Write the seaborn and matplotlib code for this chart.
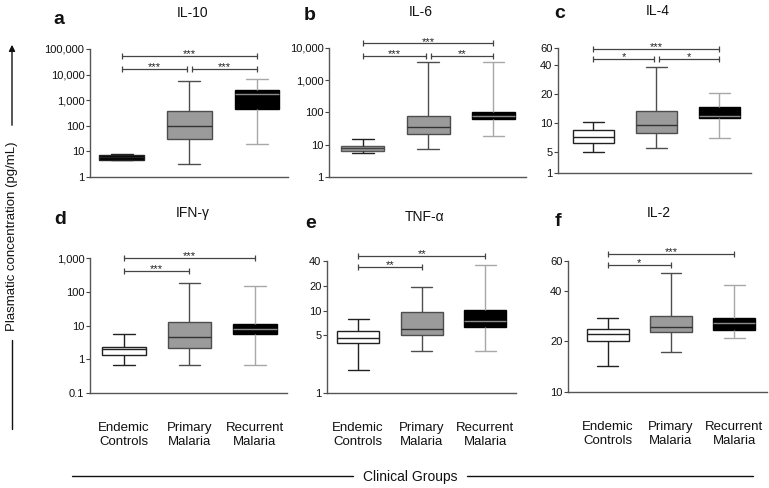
import numpy as np
import pandas as pd
import matplotlib
matplotlib.use("Agg")
import matplotlib.pyplot as plt
from matplotlib.lines import Line2D
from matplotlib.patches import FancyArrowPatch
import seaborn as sns

W, H = 769, 488

groups = ["Endemic Controls", "Primary Malaria", "Recurrent Malaria"]
group_labels = ["Endemic\nControls", "Primary\nMalaria", "Recurrent\nMalaria"]

# five-number summaries: min, q1, median, q3, max
il10 = [[4.5, 4.8, 6.0, 7.5, 7.9], [3.2, 30, 100, 380, 5600], [19, 450, 1750, 2500, 6700]]
il6 = [[5.4, 6.5, 7.8, 9.2, 14.8], [7.4, 21, 36, 78, 3600], [19, 63, 80, 100, 3600]]
il4 = [[4.95, 6.2, 7.1, 8.4, 10.1], [5.5, 7.9, 9.4, 13.1, 38.5], [6.9, 11.2, 11.9, 14.6, 20.2]]
ifng = [[0.69, 1.3, 1.95, 2.3, 5.7], [0.69, 2.1, 4.6, 13, 182], [0.69, 5.7, 7.9, 10.8, 150]]
tnfa = [[1.9, 4.0, 4.7, 5.6, 7.8], [3.2, 5.0, 6.0, 9.7, 19.3], [3.2, 6.4, 7.5, 10.2, 35.6]]
il2 = [[14.3, 20.0, 22.1, 23.7, 27.5], [17.4, 22.6, 24.3, 28.4, 51], [21, 23.5, 25.8, 27.7, 43]]

panel_data = [il10, il6, il4, ifng, tnfa, il2]
titles = ["IL-10", "IL-6", "IL-4", "IFN-\u03b3", "TNF-\u03b1", "IL-2"]
letters = ["a", "b", "c", "d", "e", "f"]

yticks = [
    [1, 10, 100, 1000, 10000, 100000],
    [1, 10, 100, 1000, 10000],
    [3.0, 5, 10, 20, 40, 60],   # bottom tick sits after an axis break in the original
    [0.1, 1, 10, 100, 1000],
    [1, 5, 10, 20, 40],
    [10, 20, 40, 60],
]
ytick_labels = [
    ["1", "10", "100", "1,000", "10,000", "100,000"],
    ["1", "10", "100", "1,000", "10,000"],
    ["1", "5", "10", "20", "40", "60"],
    ["0.1", "1", "10", "100", "1,000"],
    ["1", "5", "10", "20", "40"],
    ["10", "20", "40", "60"],
]

# significance brackets: (from group, to group, y value, stars)
brackets = [
    [(0, 2, 53000, "***"), (0, 0.96, 16500, "***"), (1.04, 2, 16500, "***")],
    [(0, 2, 14000, "***"), (0, 0.96, 5750, "***"), (1.04, 2, 5750, "**")],
    [(0, 2, 59, "***"), (0, 0.96, 46, "*"), (1.04, 2, 46, "*")],
    [(0, 2, 1000, "***"), (0, 1, 425, "***")],
    [(0, 2, 46, "**"), (0, 1, 34, "**")],
    [(0, 2, 66, "***"), (0, 1, 57, "*")],
]

# axes boxes in pixels: left, top, right, bottom
boxes_px = [
    (90, 49, 288, 177), (329, 48, 526, 177), (558, 48, 751, 173),
    (90, 258, 287, 393), (327, 261, 516, 393), (568, 261, 767, 392),
]
xlims = [(-0.47, 2.46), (-0.52, 2.5), (-0.56, 2.5), (-0.52, 2.49), (-0.49, 2.48), (-0.63, 2.52)]

# box styles per group: fill, edge, whisker, median
styles = [
    ("white", "#222222", "#222222", "#222222"),
    ("#9b9b9b", "#4d4d4d", "#4d4d4d", "#333333"),
    ("black", "black", "#a8a8a8", "#8a8a8a"),
]

sns.set_theme(style="ticks")
plt.rcParams["font.family"] = ["Liberation Sans", "DejaVu Sans"]

fig = plt.figure(figsize=(W / 100, H / 100), dpi=100)


def fx(x):
    return x / W


def fy(y):
    return 1 - y / H


for i, summ in enumerate(panel_data):
    l, t, r, b = boxes_px[i]
    ax = fig.add_axes([fx(l), fy(b), (r - l) / W, (b - t) / H])
    ax.set_yscale("log")
    for g, vals in enumerate(summ):
        fill, edge, whisk, med = styles[g]
        if i == 0 and g == 0:
            fill = "black"
        if i == 1 and g == 0:
            fill, edge, med = "#9b9b9b", "#555555", "#444444"
        df = pd.DataFrame({"group": groups[g], "value": vals})
        sns.boxplot(data=df, x="group", y="value", order=groups, ax=ax,
                    color=fill, linecolor=edge, linewidth=1.0, width=0.66,
                    whis=(0, 100), fliersize=0, saturation=1,
                    whiskerprops=dict(color=whisk), capprops=dict(color=whisk),
                    medianprops=dict(color=med, linewidth=1.0))
    ax.set_xlim(*xlims[i])
    ax.set_ylim(yticks[i][0], yticks[i][-1])
    ax.minorticks_off()
    ax.set_yticks(yticks[i])
    ax.set_yticklabels(ytick_labels[i])
    ax.set_xlabel("")
    ax.set_ylabel("")
    ax.tick_params(axis="y", length=3, width=0.8, color="#444444", pad=1,
                   labelsize=8, labelcolor="#111111")
    if i >= 3:
        ax.set_xticks([0, 1, 2])
        ax.set_xticklabels(group_labels)
        ax.tick_params(axis="x", length=0, pad=21, labelsize=9.5, labelcolor="#111111")
    else:
        ax.set_xticks([])
    for s in ["top", "right"]:
        ax.spines[s].set_visible(False)
    for s in ["left", "bottom"]:
        ax.spines[s].set_color("#555555")
        ax.spines[s].set_linewidth(1.0)
    ax.set_facecolor("white")

    for x0, x1, yv, stars in brackets[i]:
        ax.plot([x0, x1], [yv, yv], color="#444444", lw=0.9, clip_on=False)
        ax.plot([x0, x1], [yv, yv], ls="none", marker="|", ms=5, mew=0.9,
                color="#444444", clip_on=False)
        ax.annotate(stars, xy=((x0 + x1) / 2, yv), xytext=(0, -2.5),
                    textcoords="offset points", ha="center", va="bottom",
                    fontsize=8, color="#222222", annotation_clip=False)

title_pos = [(193, 13), (421, 12), (658, 11), (193, 213), (425, 217), (659, 213)]
letter_pos = [(59, 19), (310, 16), (560, 13), (60, 220), (311, 223), (558, 222)]
for i in range(6):
    fig.text(fx(title_pos[i][0]), fy(title_pos[i][1]), titles[i], ha="center",
             va="center", fontsize=10, color="#111111")
    fig.text(fx(letter_pos[i][0]), fy(letter_pos[i][1]), letters[i], ha="center",
             va="center", fontsize=14, fontweight="bold", color="#111111")

# y label with arrow
fig.text(fx(12), fy(236), "Plasmatic concentration (pg/mL)", rotation=90,
         ha="center", va="center", fontsize=9.5, color="#111111")
fig.add_artist(FancyArrowPatch((fx(12), fy(128)), (fx(12), fy(42)),
                               transform=fig.transFigure, arrowstyle="-|>",
                               mutation_scale=9, lw=1, color="#111111"))
fig.add_artist(Line2D([fx(12), fx(12)], [fy(340), fy(429)],
                      transform=fig.transFigure, lw=1, color="#111111"))

# x label with lines
fig.text(fx(410), fy(477), "Clinical Groups", ha="center", va="center",
         fontsize=10, color="#111111")
fig.add_artist(Line2D([fx(72), fx(353)], [fy(476), fy(476)],
                      transform=fig.transFigure, lw=1, color="#111111"))
fig.add_artist(Line2D([fx(467), fx(753)], [fy(476), fy(476)],
                      transform=fig.transFigure, lw=1, color="#111111"))

fig.savefig("out.png", dpi=100, facecolor="white")
